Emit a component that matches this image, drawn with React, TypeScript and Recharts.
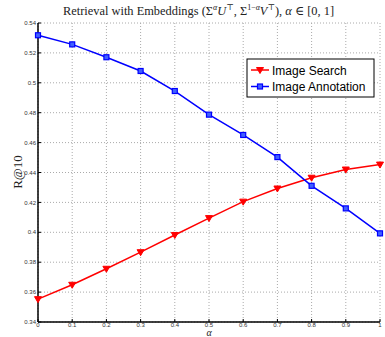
import React from 'react';
import { LineChart, Line, XAxis, YAxis, CartesianGrid } from 'recharts';

const alphas = [0, 0.1, 0.2, 0.3, 0.4, 0.5, 0.6, 0.7, 0.8, 0.9, 1];
const imageSearch = [0.3553, 0.3649, 0.3756, 0.3867, 0.3982, 0.4095, 0.4205, 0.4293, 0.4365, 0.442, 0.4453];
const imageAnnotation = [0.5318, 0.5257, 0.5171, 0.5079, 0.4945, 0.4787, 0.4651, 0.4503, 0.4311, 0.416, 0.3993];
const yTicks = [0.34, 0.36, 0.38, 0.4, 0.42, 0.44, 0.46, 0.48, 0.5, 0.52, 0.54];
const seriesNames = ['Image Search', 'Image Annotation'];

const data = alphas.map((a, i) => ({
  alpha: a,
  search: imageSearch[i],
  annotation: imageAnnotation[i]
}));

const fmt = (v: number) => `${Number(v.toFixed(2))}`;

const TriangleDot = (props: any) => {
  const { cx, cy } = props;
  if (cx == null || cy == null) return null;
  return (
    <path
      d={`M${cx - 3.5},${cy - 2.5}L${cx + 3.5},${cy - 2.5}L${cx},${cy + 3.5}Z`}
      fill="#ff0000"
      stroke="#ff0000"
      strokeWidth={1}
    />
  );
};

const SquareDot = (props: any) => {
  const { cx, cy } = props;
  if (cx == null || cy == null) return null;
  return (
    <rect x={cx - 2.5} y={cy - 2.5} width={5} height={5} fill="#4060ff" stroke="#0000ff" strokeWidth={1.2} />
  );
};

const tickStyle = { fontSize: 6, fill: '#333', fontFamily: 'Liberation Sans, Arial, sans-serif' };

const App = () => {
  return (
    <div style={{ position: 'absolute', left: 0, top: 0, width: 385, height: 337 }}>
      <LineChart width={385} height={337} data={data} margin={{ top: 23, right: 5, bottom: 0, left: 0 }}>
        <CartesianGrid stroke="#aaa" strokeDasharray="1 2" />
        <XAxis
          dataKey="alpha"
          type="number"
          domain={[0, 1]}
          ticks={alphas}
          tickFormatter={fmt}
          height={15}
          tick={tickStyle}
          axisLine={{ stroke: '#000', strokeWidth: 1.5 }}
          tickLine={{ stroke: '#000' }}
          tickSize={-3}
          tickMargin={4}
        />
        <XAxis
          xAxisId="top"
          orientation="top"
          dataKey="alpha"
          type="number"
          domain={[0, 1]}
          ticks={alphas}
          height={0}
          mirror
          tick={false}
          tickSize={3}
          axisLine={{ stroke: '#000', strokeWidth: 1.5 }}
          tickLine={{ stroke: '#000' }}
        />
        <YAxis
          type="number"
          domain={[0.34, 0.54]}
          ticks={yTicks}
          tickFormatter={fmt}
          width={38}
          tick={tickStyle}
          axisLine={{ stroke: '#000', strokeWidth: 1.5 }}
          tickLine={{ stroke: '#000' }}
          tickSize={-3}
          tickMargin={5}
        />
        <YAxis
          yAxisId="right"
          orientation="right"
          type="number"
          domain={[0.34, 0.54]}
          ticks={yTicks}
          width={0}
          mirror
          tick={false}
          tickSize={3}
          axisLine={{ stroke: '#000', strokeWidth: 1.5 }}
          tickLine={{ stroke: '#000' }}
        />
        <Line
          dataKey="search"
          stroke="#ff0000"
          strokeWidth={1.5}
          dot={<TriangleDot />}
          isAnimationActive={false}
        />
        <Line
          dataKey="annotation"
          stroke="#0000ff"
          strokeWidth={1.5}
          dot={<SquareDot />}
          isAnimationActive={false}
        />
      </LineChart>
      <svg width={385} height={337} style={{ position: 'absolute', left: 0, top: 0, pointerEvents: 'none' }}>
        <text x={63} y={15} fontSize={12.4} fontFamily="Liberation Serif, DejaVu Serif, serif" fill="#222">
          Retrieval with Embeddings (Σ<tspan fontStyle="italic" fontSize={8} dy={-5}>α</tspan>
          <tspan fontStyle="italic" dy={5}>U</tspan>
          <tspan fontSize={8} dy={-5}>⊤</tspan>
          <tspan dy={5}>, Σ</tspan>
          <tspan fontSize={8} dy={-5}>1−</tspan>
          <tspan fontStyle="italic" fontSize={8}>α</tspan>
          <tspan fontStyle="italic" dy={5}>V</tspan>
          <tspan fontSize={8} dy={-5}>⊤</tspan>
          <tspan dy={5}>), </tspan>
          <tspan fontStyle="italic">α</tspan>
          <tspan> ∈ [0, 1]</tspan>
        </text>
        <text
          x={22}
          y={172}
          transform="rotate(-90 22 172)"
          textAnchor="middle"
          fontSize={13}
          fontFamily="Liberation Serif, DejaVu Serif, serif"
          fill="#222"
        >
          R@10
        </text>
        <text x={209} y={336} textAnchor="middle" fontSize={10} fontStyle="italic" fontFamily="Liberation Serif, DejaVu Serif, serif" fill="#222">
          α
        </text>
        <rect x={247} y={59} width={127} height={38} fill="#fff" stroke="#000" strokeWidth={1} />
        <line x1={251} y1={70} x2={269} y2={70} stroke="#ff0000" strokeWidth={1.5} />
        <TriangleDot cx={260} cy={70} />
        <text x={272} y={74.5} fontSize={12} fontFamily="Liberation Sans, Arial, sans-serif" fill="#000">
          {seriesNames[0]}
        </text>
        <line x1={251} y1={86.5} x2={269} y2={86.5} stroke="#0000ff" strokeWidth={1.5} />
        <SquareDot cx={260} cy={86.5} />
        <text x={272} y={91} fontSize={12} fontFamily="Liberation Sans, Arial, sans-serif" fill="#000">
          {seriesNames[1]}
        </text>
      </svg>
    </div>
  );
};

export default App;
